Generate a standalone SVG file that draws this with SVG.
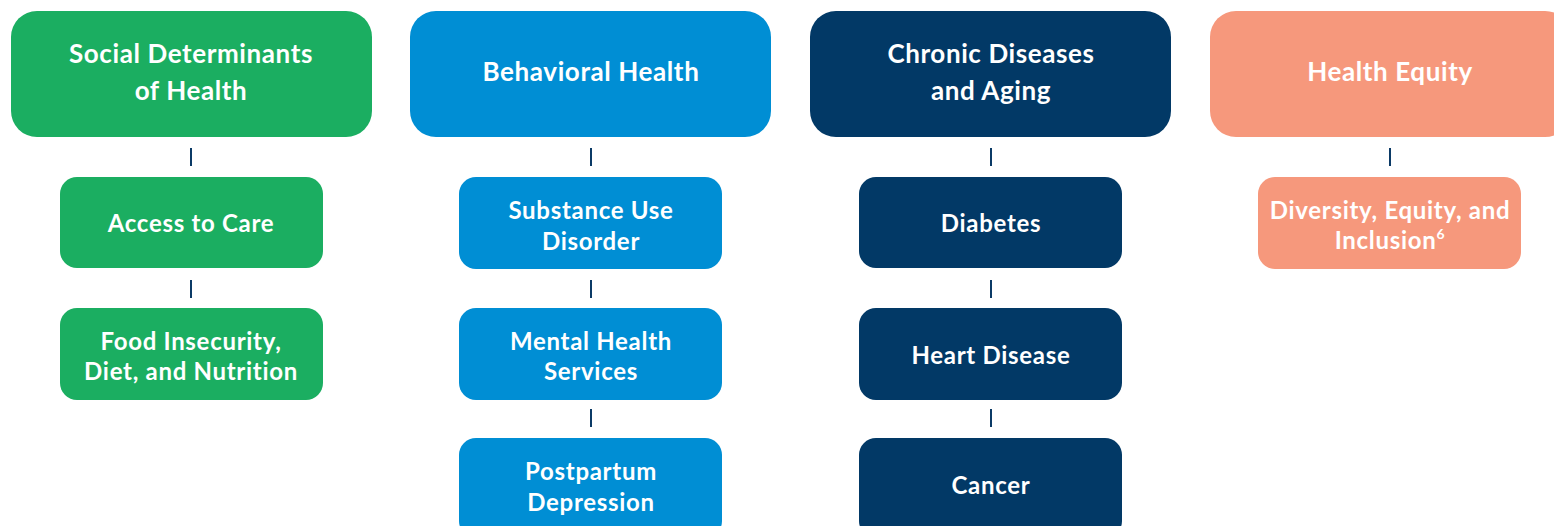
<svg xmlns="http://www.w3.org/2000/svg" width="1554" height="526" viewBox="0 0 1554 526">
  <style>
    .hd { font-family: Lato, "Noto Sans", sans-serif; font-weight: 700; font-size: 26px; letter-spacing: 0.6px; fill: #ffffff; text-anchor: middle; }
    .sb { font-family: Lato, "Noto Sans", sans-serif; font-weight: 700; font-size: 24px; letter-spacing: 0.7px; fill: #ffffff; text-anchor: middle; }
    .green { fill: #1bae61; }
    .blue { fill: #008ed4; }
    .navy { fill: #023966; }
    .salmon { fill: #f6987c; }
    .link { stroke: #0b3a66; stroke-width: 2; fill: none; }
  </style>
  <rect width="1554" height="526" fill="#ffffff"/>

  <!-- connectors between headers and topic boxes -->
  <g id="connectors">
    <path class="link" d="M191 148V166M191 280V298M591 148V166M591 280V298M591 409V427M991 148V166M991 280V298M991 409V427M1390 148V166"/>
  </g>

  <!-- column 1 -->
  <g id="sdoh">
    <rect class="green" x="11" y="11" width="361" height="126" rx="26"/>
    <text class="hd" x="191" y="63">Social Determinants</text>
    <text class="hd" x="191" y="100">of Health</text>
  </g>
  <g id="access-to-care">
    <rect class="green" x="60" y="177" width="263" height="91" rx="17"/>
    <text class="sb" x="191" y="232">Access to Care</text>
  </g>
  <g id="food-insecurity">
    <rect class="green" x="60" y="308" width="263" height="92" rx="17"/>
    <text class="sb" x="191" y="350">Food Insecurity,</text>
    <text class="sb" x="191" y="380">Diet, and Nutrition</text>
  </g>

  <!-- column 2 -->
  <g id="behavioral-health">
    <rect class="blue" x="410" y="11" width="361" height="126" rx="26"/>
    <text class="hd" x="591" y="81">Behavioral Health</text>
  </g>
  <g id="substance-use">
    <rect class="blue" x="459" y="177" width="263" height="92" rx="17"/>
    <text class="sb" x="591" y="219">Substance Use</text>
    <text class="sb" x="591" y="250">Disorder</text>
  </g>
  <g id="mental-health">
    <rect class="blue" x="459" y="308" width="263" height="92" rx="17"/>
    <text class="sb" x="591" y="350">Mental Health</text>
    <text class="sb" x="591" y="380">Services</text>
  </g>
  <g id="postpartum">
    <rect class="blue" x="459" y="438" width="263" height="100" rx="17"/>
    <text class="sb" x="591" y="480">Postpartum</text>
    <text class="sb" x="591" y="511">Depression</text>
  </g>

  <!-- column 3 -->
  <g id="chronic-diseases">
    <rect class="navy" x="810" y="11" width="361" height="126" rx="26"/>
    <text class="hd" x="991" y="63">Chronic Diseases</text>
    <text class="hd" x="991" y="100">and Aging</text>
  </g>
  <g id="diabetes">
    <rect class="navy" x="859" y="177" width="263" height="91" rx="17"/>
    <text class="sb" x="991" y="232">Diabetes</text>
  </g>
  <g id="heart-disease">
    <rect class="navy" x="859" y="308" width="263" height="92" rx="17"/>
    <text class="sb" x="991" y="364">Heart Disease</text>
  </g>
  <g id="cancer">
    <rect class="navy" x="859" y="438" width="263" height="100" rx="17"/>
    <text class="sb" x="991" y="494">Cancer</text>
  </g>

  <!-- column 4 -->
  <g id="health-equity">
    <rect class="salmon" x="1210" y="11" width="361" height="126" rx="26"/>
    <text class="hd" x="1390" y="81">Health Equity</text>
  </g>
  <g id="dei">
    <rect class="salmon" x="1258" y="177" width="263" height="92" rx="17"/>
    <text class="sb" x="1390" y="219">Diversity, Equity, and</text>
    <text class="sb" x="1390" y="249">Inclusion<tspan font-size="14" dy="-10">6</tspan></text>
  </g>
</svg>
